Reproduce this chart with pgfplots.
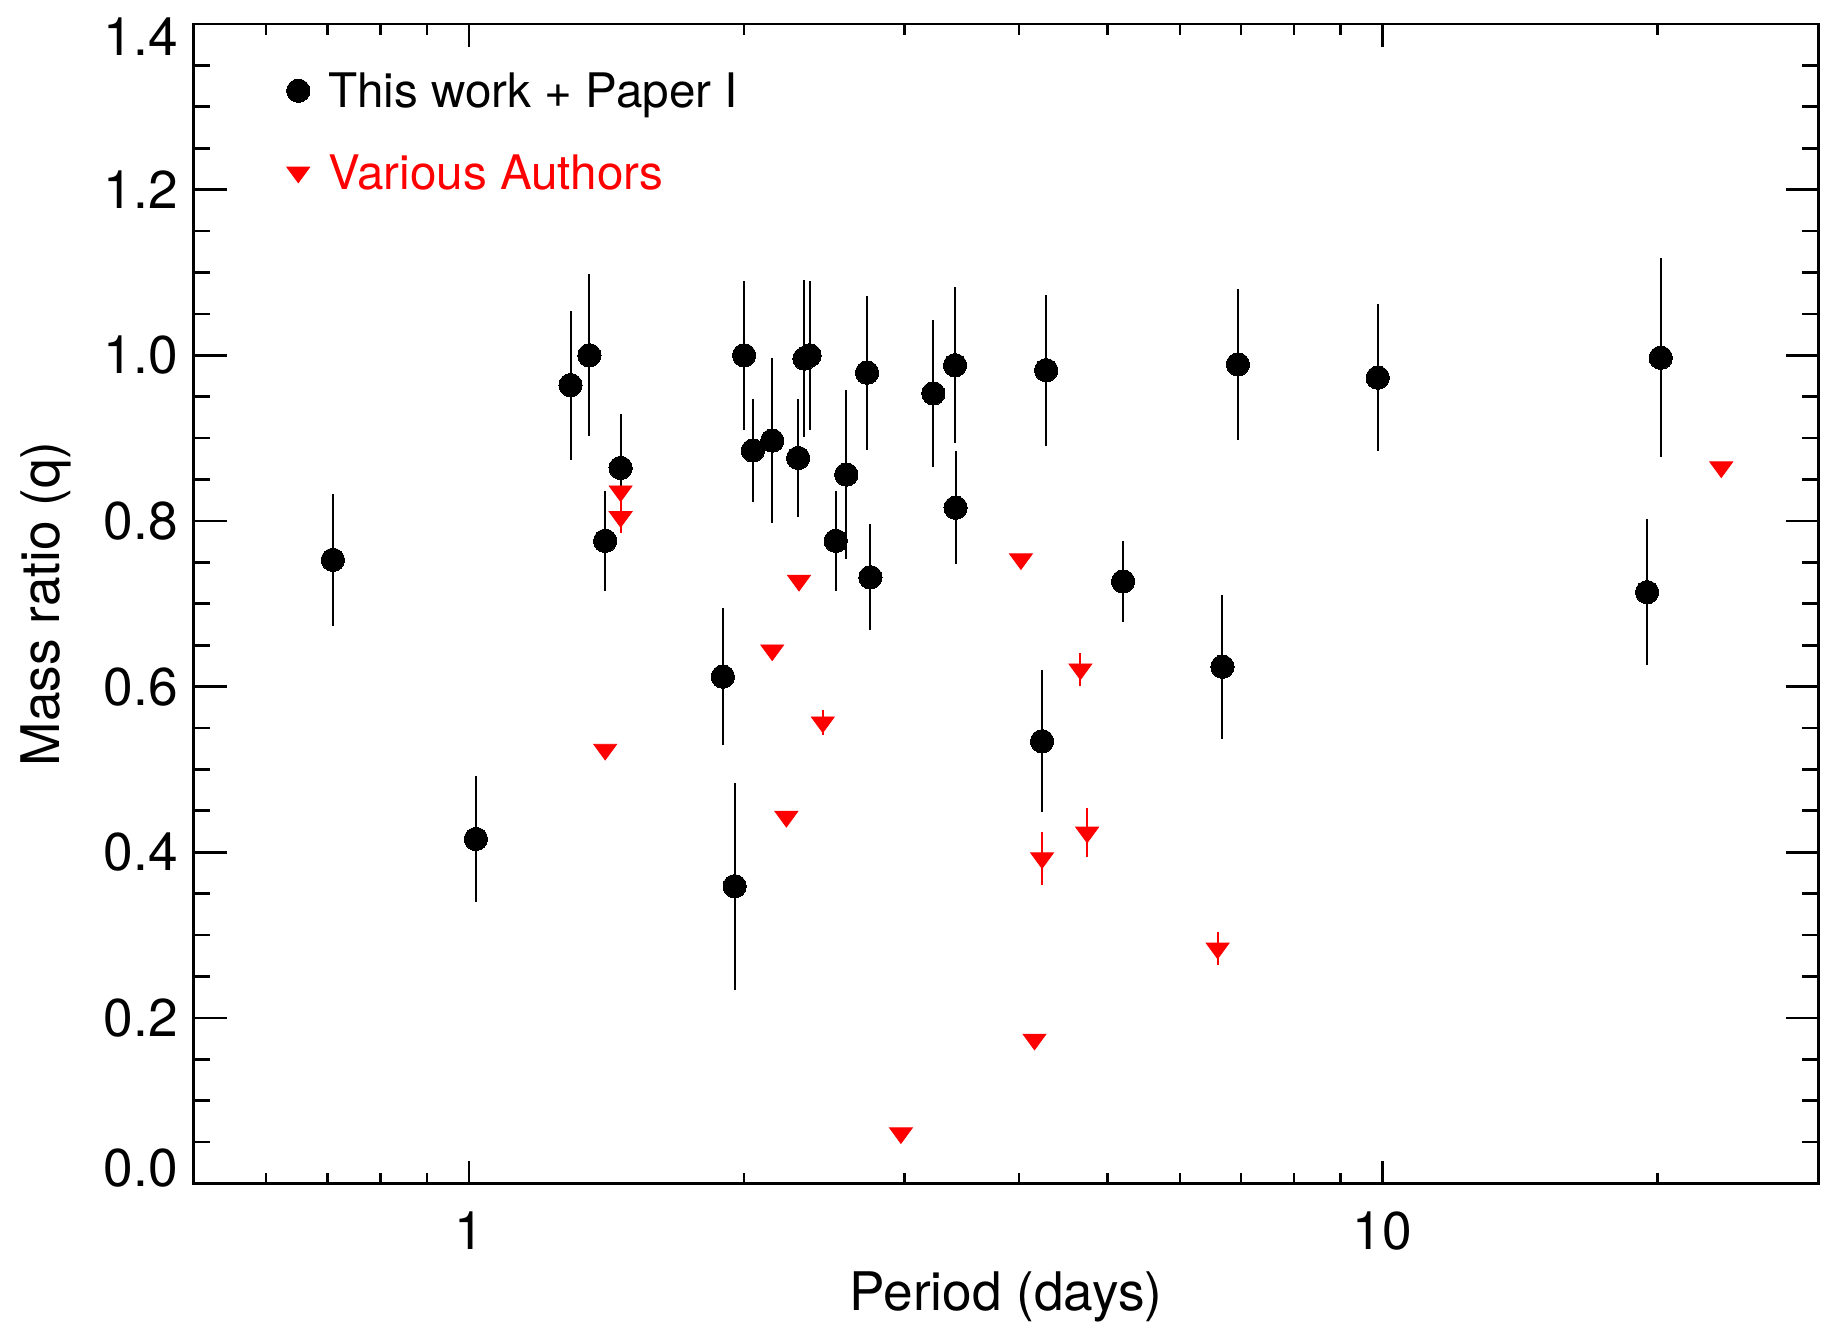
\documentclass[border=0pt]{standalone}
\usepackage{pgfplots}
\pgfplotsset{compat=1.18}
\usepackage{pgfplotstable}
\usepackage{fontspec}
\setmainfont{TeX Gyre Heros}

\pgfplotstableread{
P q e
0.710 0.753 0.080
1.018 0.416 0.076
1.292 0.964 0.090
1.355 1.000 0.098
1.410 0.776 0.060
1.466 0.864 0.065
1.897 0.612 0.083
1.954 0.359 0.125
2.001 1.000 0.090
2.046 0.885 0.062
2.148 0.897 0.100
2.293 0.876 0.071
2.330 0.996 0.095
2.360 1.000 0.090
2.521 0.776 0.060
2.589 0.856 0.102
2.728 0.979 0.093
2.751 0.732 0.064
3.224 0.954 0.089
3.405 0.988 0.094
3.410 0.816 0.068
4.240 0.534 0.086
4.284 0.982 0.091
5.200 0.727 0.049
6.680 0.624 0.087
6.946 0.989 0.091
9.880 0.973 0.089
19.48 0.714 0.088
20.16 0.997 0.120
}\thiswork

\pgfplotstableread{
P q e
1.410 0.524 0
1.466 0.836 0
1.466 0.805 0.020
2.148 0.644 0
2.226 0.443 0
2.298 0.728 0
2.440 0.557 0.015
2.971 0.061 0
4.020 0.754 0
4.160 0.174 0
4.240 0.393 0.032
4.670 0.621 0.020
4.750 0.424 0.030
6.600 0.284 0.020
23.48 0.865 0
}\various

\begin{document}
\begin{tikzpicture}
\begin{axis}[
  at={(0pt,0pt)}, anchor=south west,
  scale only axis, width=406.175pt, height=289.875pt,
  xmode=log, xmin=0.5, xmax=30, ymin=0, ymax=1.4,
  xtick={1,10}, xticklabels={1,10},
  minor xtick={0.6,0.7,0.8,0.9,2,3,4,5,6,7,8,9,20},
  ytick={0,0.2,0.4,0.6,0.8,1.0,1.2,1.4},
  minor ytick={0.05,0.1,0.15,0.25,0.3,0.35,0.45,0.5,0.55,0.65,0.7,0.75,0.85,0.9,0.95,1.05,1.1,1.15,1.25,1.3,1.35},
  yticklabels={\raisebox{4.1pt}[9.5pt][0pt]{0.0},0.2,0.4,0.6,0.8,1.0,1.2,\raisebox{-3.1pt}[9.5pt][0pt]{1.4}},
  tick pos=both, tick align=inside,
  major tick length=8.25pt, minor tick length=4.1pt,
  every major x tick/.append style={/pgfplots/major tick length=5.75pt},
  every minor x tick/.append style={/pgfplots/minor tick length=2.75pt},
  axis line style={line width=0.67pt},
  tick style={line width=0.67pt, black},
  tick label style={font=\fontsize{13.3pt}{16pt}\selectfont},
  yticklabel style={inner xsep=3.8pt},
  xticklabel style={yshift=-3.5pt},
  label style={font=\fontsize{13.3pt}{16pt}\selectfont},
  xlabel={Period (days)},
  ylabel={Mass ratio (q)},
  xlabel style={at={(axis description cs:0.5,-0.1091)}, anchor=base},
  ylabel style={at={(axis description cs:-0.08235,0.5)}, anchor=base},
  legend cell align=left,
  legend image code/.code={\draw[#1] plot coordinates {(0pt,0pt)}; \path (0pt,-4.25pt) (0pt,2pt);},
  legend style={at={(axis description cs:0.05715,0.9623)}, anchor=north west,
    draw=none, fill=none, inner sep=0pt, outer sep=0pt,
    row sep=8.9pt, column sep=4.6pt,
    font=\fontsize{11.9pt}{14pt}\selectfont,
    nodes={inner sep=0pt, text height=10pt, text depth=1.5pt}},
]
\addplot[black, only marks, mark=*, mark size=2.91pt,
  mark options={draw=black, fill=black, line width=0pt},
  error bars/.cd, y dir=both, y explicit, error mark=none,
  error bar style={line width=0.5pt, black}]
  table[x=P, y=q, y error=e] {\thiswork};
\addlegendentry{This work + Paper I}
\addplot[red, only marks, mark=triangle*, mark size=3.3pt,
  mark options={draw=red, fill=red, line width=0.2pt, rotate=180, yscale=0.79},
  error bars/.cd, y dir=both, y explicit, error mark=none,
  error bar style={line width=0.5pt, red}]
  table[x=P, y=q, y error=e] {\various};
\addlegendentry{\textcolor{red}{Various Authors}}
\end{axis}
\pgfresetboundingbox
\path[use as bounding box] (-48.45pt,-36.875pt) rectangle (412.05pt,295.875pt);
\end{tikzpicture}
\end{document}
